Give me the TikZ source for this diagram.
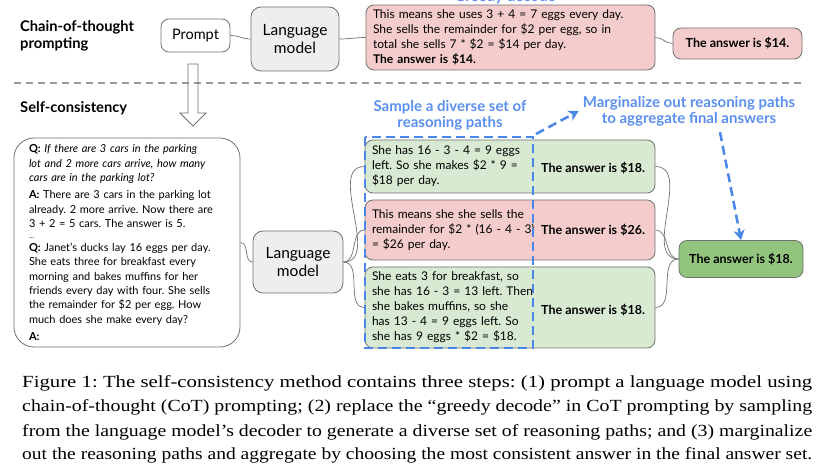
\documentclass[tikz,border=0pt]{standalone}
\usepackage{fontspec}
\setmainfont{Liberation Serif}
\newfontfamily\diafont{Lato}
\usetikzlibrary{calc,arrows.meta,positioning}
\definecolor{boxred}{HTML}{F4CCCC}
\definecolor{boxgreen}{HTML}{D9EAD3}
\definecolor{ansgreen}{HTML}{93C47D}
\definecolor{lmgray}{HTML}{EEEEEE}
\definecolor{edgegray}{HTML}{707070}
\definecolor{sampleblue}{HTML}{4A86E8}
\definecolor{labelblue}{HTML}{5B8FEF}
\frenchspacing
\begin{document}
\begin{tikzpicture}[x=1pt,y=-1pt,
    every node/.style={font=\diafont},
    box/.style={draw=edgegray,line width=0.8pt,rounded corners=8pt,inner sep=0pt},
    heading/.style={font=\diafont\bfseries\fontsize{14.7}{17}\selectfont,align=left,inner sep=0pt},
    lmtext/.style={font=\diafont\fontsize{15.5}{18}\selectfont,align=center},
    pathbox/.style={box,text width=276pt,inner xsep=7pt,align=left,font=\diafont\fontsize{12}{15}\selectfont},
    anstext/.style={font=\diafont\bfseries\fontsize{12.5}{15}\selectfont},
    bluelbl/.style={font=\diafont\bfseries\fontsize{15}{16}\selectfont,text=labelblue,align=center,inner sep=0pt},
    link/.style={edgegray,line width=0.7pt},
    dashbox/.style={sampleblue,line width=2.5pt,dash pattern=on 9pt off 5pt},
    bluearrow/.style={dashbox,-{Stealth[length=10pt,width=11pt,inset=3pt]}},
    caption/.style={font=\rmfamily\fontsize{17}{24}\selectfont,inner sep=0pt,anchor=base west}]
    \useasboundingbox(0,0)rectangle(831,465);
    % chain-of-thought row
    \node[heading,anchor=west](cotlbl)at(20,36){Chain-of-thought\\prompting};
    \node[box,fill=white,minimum width=69pt,minimum height=33pt,font=\diafont\fontsize{14.5}{17}\selectfont](prompt)at(195.5,35.5){Prompt};
    \node[box,fill=lmgray,rounded corners=10pt,minimum width=88pt,minimum height=64pt,lmtext](lmtop)at(295,39){Language\\model};
    \node[pathbox,fill=boxred,text width=275pt,minimum height=65pt](greedy)at(510.5,37.5){This means she uses 3 + 4 = 7 eggs every day.\\She sells the remainder for \$2 per egg, so in\\total she sells 7 * \$2 = \$14 per day.\\\textbf{The answer is \$14.}};
    \node[box,fill=boxred,minimum width=129pt,minimum height=31pt,anstext](anstop)at(737.5,43.5){The answer is \$14.};
    \node[bluelbl,anchor=base](greedylbl)at(505,1.5){Greedy decode};
    \draw[link](prompt.east)to[out=0,in=180](lmtop.west);
    \draw[link](lmtop.east)to[out=0,in=180](greedy.west);
    \draw[link](greedy.east)to[out=0,in=180](anstop.west);
    % separator and hollow arrow
    \draw[gray!80,line width=1.5pt,dash pattern=on 7pt off 5pt](14,83)--(802,83);
    \draw[edgegray,line width=0.8pt](188,64)--(188,113)--(180,113)--(193,126)--(206,113)--(198,113)--(198,64)--cycle;
    % self-consistency row
    \node[heading,anchor=west](sclbl)at(20,108){Self-consistency};
    \node[box,fill=white,rounded corners=20pt,text width=196pt,inner xsep=15pt,minimum height=209pt,align=left,font=\diafont\fontsize{11}{14.4}\selectfont](question)at(127,242.5){%
      \textbf{Q:} \textit{If there are 3 cars in the parking}\\
      \textit{lot and 2 more cars arrive, how many}\\
      \textit{cars are in the parking lot?}\\[2.5pt]
      \textbf{A:} There are 3 cars in the parking lot\\
      already. 2 more arrive. Now there are\\
      3 + 2 = 5 cars. The answer is 5.\\[-3pt]
      {\scriptsize...}\\[-2pt]
      \textbf{Q:} Janet’s ducks lay 16 eggs per day.\\
      She eats three for breakfast every\\
      morning and bakes muffins for her\\
      friends every day with four. She sells\\
      the remainder for \$2 per egg. How\\
      much does she make every day?\\[2.5pt]
      \textbf{A:}};
    \node[box,fill=lmgray,rounded corners=10pt,minimum width=90pt,minimum height=62pt,lmtext](lmbot)at(298,262){Language\\model};
    \node[pathbox,fill=boxgreen,minimum height=53pt](path1)at(510,166.5){She has 16 - 3 - 4 = 9 eggs\\left. So she makes \$2 * 9 =\\\$18 per day.};
    \node[pathbox,fill=boxred,minimum height=60pt](path2)at(510,230){This means she she sells the\\remainder for \$2 * (16 - 4 - 3)\\= \$26 per day.};
    \node[pathbox,fill=boxgreen,minimum height=81pt](path3)at(510,307.5){She eats 3 for breakfast, so\\she has 16 - 3 = 13 left. Then\\she bakes muffins, so she\\has 13 - 4 = 9 eggs left. So\\she has 9 eggs * \$2 = \$18.};
    \node[anstext,anchor=west,inner sep=0pt](ans1)at(541,168){The answer is \$18.};
    \node[anstext,anchor=west,inner sep=0pt](ans2)at(541,230){The answer is \$26.};
    \node[anstext,anchor=west,inner sep=0pt](ans3)at(541,310){The answer is \$18.};
    \node[box,fill=ansgreen,minimum width=124pt,minimum height=37pt,anstext](final)at(741,259){The answer is \$18.};
    \draw[link](question.east)to[out=0,in=180](lmbot.west);
    \foreach \p in {path1,path2,path3}{
      \draw[link](lmbot.east)to[out=0,in=180](\p.west);
      \draw[link](\p.east)to[out=0,in=180](final.west);
    }
    % sampling box and the two blue arrows
    \coordinate(sampnw)at(365,137);
    \coordinate(sampse)at(533,348);
    \draw[dashbox](sampnw)rectangle(sampse);
    \node[bluelbl](samplbl)at(450,115){Sample a diverse set of\\reasoning paths};
    \node[bluelbl](marglbl)at(689,111){Marginalize out reasoning paths\\to aggregate final answers};
    \draw[bluearrow]($(sampse|-sampnw)+(3,-3)$)--([xshift=-4pt]marglbl.west);
    \draw[bluearrow]($(marglbl.south)+(31,6)$)--(final.north);
    % caption
    \node[caption](cap1)at(22,388){\resizebox{790pt}{\height}{Figure 1: The self-consistency method contains three steps: (1) prompt a language model using}};
    \node[caption](cap2)at(22,412){\resizebox{790pt}{\height}{chain-of-thought (CoT) prompting; (2) replace the “greedy decode” in CoT prompting by sampling}};
    \node[caption](cap3)at(22,436){\resizebox{790pt}{\height}{from the language model’s decoder to generate a diverse set of reasoning paths; and (3) marginalize}};
    \node[caption](cap4)at(22,459){\resizebox{790pt}{\height}{out the reasoning paths and aggregate by choosing the most consistent answer in the final answer set.}};
  \end{tikzpicture}
\end{document}
